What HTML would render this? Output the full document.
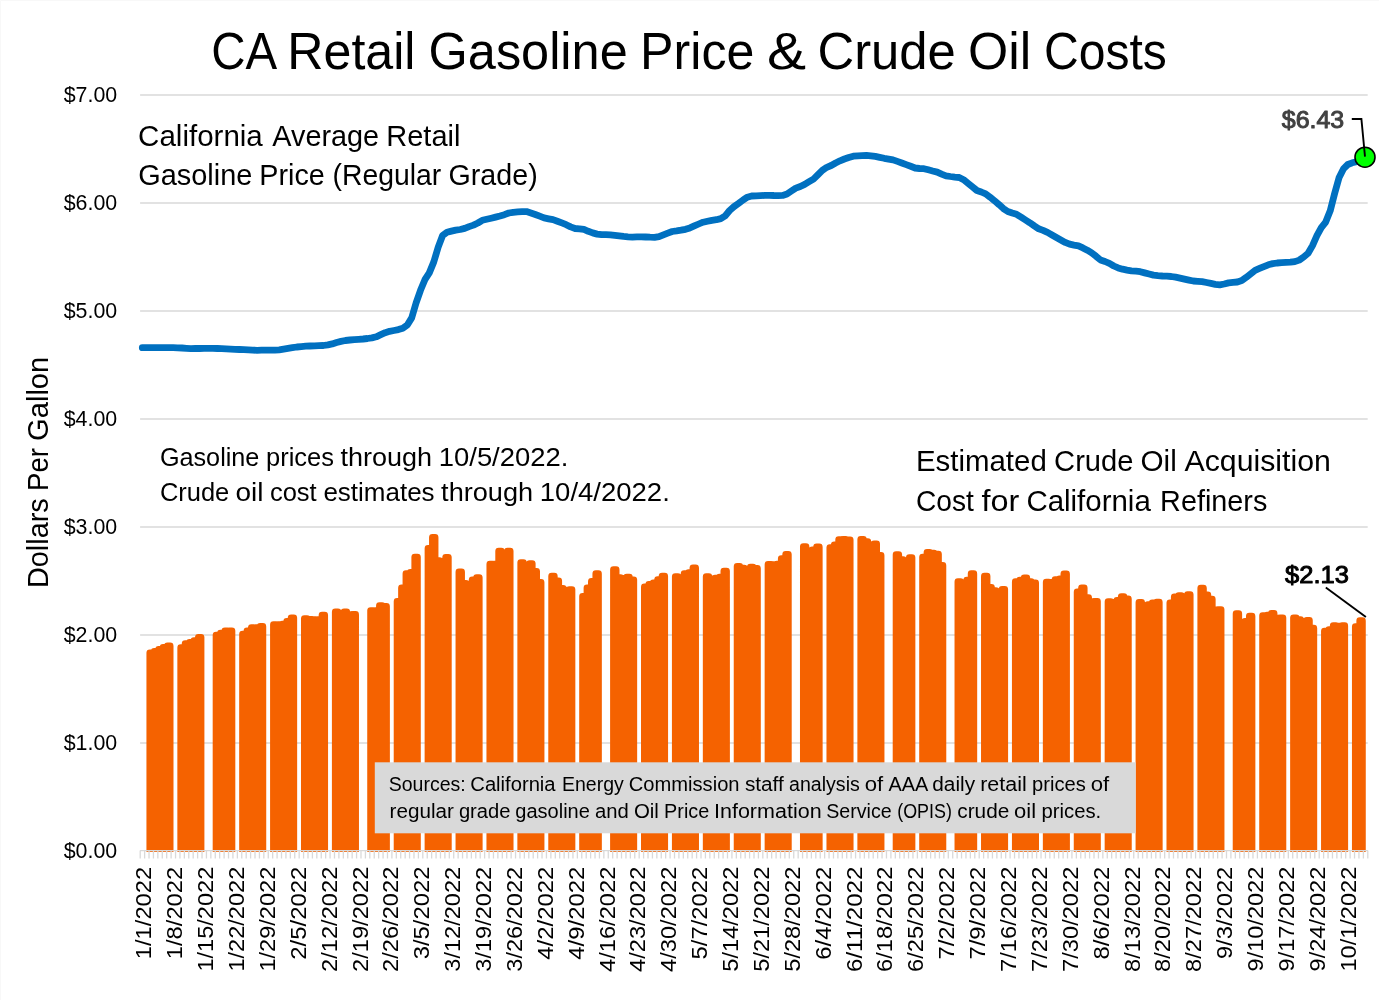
<!DOCTYPE html>
<html lang="en"><head><meta charset="utf-8"><title>CA Retail Gasoline Price &amp; Crude Oil Costs</title>
<style>html,body{margin:0;padding:0;background:#fff}body{width:1379px;height:1000px;overflow:hidden}svg{display:block}text{font-family:"Liberation Sans",sans-serif}</style>
</head><body>
<svg width="1379" height="1000" viewBox="0 0 1379 1000">
<rect x="0" y="0" width="1379" height="1000" fill="#fff"/>
<path d="M0.5 1000 V0.5 H1379" fill="none" stroke="#F8F8F8" stroke-width="1"/>
<path d="M140.1 743.00H1367.7M140.1 635.00H1367.7M140.1 527.00H1367.7M140.1 419.00H1367.7M140.1 311.00H1367.7M140.1 203.00H1367.7M140.1 95.00H1367.7" stroke="#D9D9D9" stroke-width="1.4" fill="none"/>
<defs><clipPath id="pc"><rect x="138.1" y="80" width="1231.6" height="771.90"/></clipPath></defs>
<path clip-path="url(#pc)" d="M149.84 860.5V652.80H152.44V860.5ZM154.26 860.5V651.50H156.86V860.5ZM158.67 860.5V649.50H161.27V860.5ZM163.09 860.5V647.40H165.69V860.5ZM167.50 860.5V645.90H170.10V860.5ZM180.75 860.5V647.70H183.35V860.5ZM185.17 860.5V643.60H187.77V860.5ZM189.58 860.5V642.40H192.18V860.5ZM194.00 860.5V640.60H196.60V860.5ZM198.41 860.5V637.30H201.01V860.5ZM216.08 860.5V635.10H218.68V860.5ZM220.49 860.5V633.20H223.09V860.5ZM224.91 860.5V630.80H227.51V860.5ZM229.32 860.5V630.80H231.92V860.5ZM242.57 860.5V634.20H245.17V860.5ZM246.99 860.5V630.80H249.59V860.5ZM251.40 860.5V627.60H254.00V860.5ZM255.82 860.5V627.60H258.42V860.5ZM260.23 860.5V626.40H262.83V860.5ZM273.48 860.5V624.70H276.08V860.5ZM277.90 860.5V624.70H280.50V860.5ZM282.31 860.5V624.10H284.91V860.5ZM286.73 860.5V621.40H289.33V860.5ZM291.15 860.5V617.80H293.75V860.5ZM304.39 860.5V618.69H306.99V860.5ZM308.81 860.5V619.47H311.41V860.5ZM313.22 860.5V619.73H315.82V860.5ZM317.64 860.5V619.73H320.24V860.5ZM322.06 860.5V615.16H324.66V860.5ZM335.30 860.5V611.90H337.90V860.5ZM339.72 860.5V613.86H342.32V860.5ZM344.13 860.5V611.90H346.73V860.5ZM348.55 860.5V614.77H351.15V860.5ZM352.97 860.5V614.51H355.57V860.5ZM370.63 860.5V610.59H373.23V860.5ZM375.05 860.5V610.59H377.65V860.5ZM379.46 860.5V605.63H382.06V860.5ZM383.88 860.5V606.42H386.48V860.5ZM397.12 860.5V601.46H399.72V860.5ZM401.54 860.5V588.01H404.14V860.5ZM405.96 860.5V573.65H408.56V860.5ZM410.37 860.5V572.35H412.97V860.5ZM414.79 860.5V557.08H417.39V860.5ZM428.03 860.5V548.46H430.63V860.5ZM432.45 860.5V537.50H435.05V860.5ZM436.87 860.5V560.60H439.47V860.5ZM441.28 860.5V561.52H443.88V860.5ZM445.70 860.5V557.34H448.30V860.5ZM458.95 860.5V571.96H461.55V860.5ZM463.36 860.5V583.44H465.96V860.5ZM467.78 860.5V584.10H470.38V860.5ZM472.19 860.5V579.79H474.79V860.5ZM476.61 860.5V577.57H479.21V860.5ZM489.86 860.5V564.13H492.46V860.5ZM494.27 860.5V564.13H496.87V860.5ZM498.69 860.5V551.07H501.29V860.5ZM503.10 860.5V553.42H505.70V860.5ZM507.52 860.5V551.07H510.12V860.5ZM520.77 860.5V562.56H523.37V860.5ZM525.18 860.5V565.17H527.78V860.5ZM529.60 860.5V563.60H532.20V860.5ZM534.01 860.5V571.44H536.61V860.5ZM538.43 860.5V582.40H541.03V860.5ZM551.68 860.5V576.27H554.28V860.5ZM556.09 860.5V580.83H558.69V860.5ZM560.51 860.5V588.40H563.11V860.5ZM564.92 860.5V590.23H567.52V860.5ZM569.34 860.5V589.58H571.94V860.5ZM582.59 860.5V596.50H585.19V860.5ZM587.00 860.5V588.01H589.60V860.5ZM591.42 860.5V581.49H594.02V860.5ZM595.84 860.5V573.65H598.44V860.5ZM613.50 860.5V569.74H616.10V860.5ZM617.91 860.5V577.57H620.51V860.5ZM622.33 860.5V578.48H624.93V860.5ZM626.75 860.5V577.18H629.35V860.5ZM631.16 860.5V579.79H633.76V860.5ZM644.41 860.5V586.97H647.01V860.5ZM648.82 860.5V584.49H651.42V860.5ZM653.24 860.5V582.79H655.84V860.5ZM657.66 860.5V579.53H660.26V860.5ZM662.07 860.5V576.27H664.67V860.5ZM675.32 860.5V576.53H677.92V860.5ZM679.74 860.5V577.96H682.34V860.5ZM684.15 860.5V573.65H686.75V860.5ZM688.57 860.5V572.74H691.17V860.5ZM692.98 860.5V567.78H695.58V860.5ZM706.23 860.5V576.53H708.83V860.5ZM710.65 860.5V579.01H713.25V860.5ZM715.06 860.5V578.22H717.66V860.5ZM719.48 860.5V577.18H722.08V860.5ZM723.89 860.5V571.04H726.49V860.5ZM737.14 860.5V566.48H739.74V860.5ZM741.56 860.5V568.04H744.16V860.5ZM745.97 860.5V569.09H748.57V860.5ZM750.39 860.5V567.13H752.99V860.5ZM754.80 860.5V568.43H757.40V860.5ZM768.05 860.5V564.52H770.65V860.5ZM772.47 860.5V564.65H775.07V860.5ZM776.88 860.5V564.13H779.48V860.5ZM781.30 860.5V558.64H783.90V860.5ZM785.71 860.5V554.47H788.31V860.5ZM803.38 860.5V546.63H805.98V860.5ZM807.79 860.5V551.86H810.39V860.5ZM812.21 860.5V549.90H814.81V860.5ZM816.63 860.5V546.90H819.23V860.5ZM829.87 860.5V547.55H832.47V860.5ZM834.29 860.5V544.94H836.89V860.5ZM838.70 860.5V539.72H841.30V860.5ZM843.12 860.5V539.46H845.72V860.5ZM847.54 860.5V539.85H850.14V860.5ZM860.78 860.5V539.46H863.38V860.5ZM865.20 860.5V541.67H867.80V860.5ZM869.61 860.5V544.94H872.21V860.5ZM874.03 860.5V543.89H876.63V860.5ZM878.45 860.5V555.38H881.05V860.5ZM896.11 860.5V554.73H898.71V860.5ZM900.53 860.5V559.56H903.13V860.5ZM904.94 860.5V560.86H907.54V860.5ZM909.36 860.5V557.60H911.96V860.5ZM922.60 860.5V557.08H925.20V860.5ZM927.02 860.5V552.38H929.62V860.5ZM931.44 860.5V553.03H934.04V860.5ZM935.85 860.5V554.21H938.45V860.5ZM940.27 860.5V565.43H942.87V860.5ZM957.93 860.5V581.75H960.53V860.5ZM962.35 860.5V582.92H964.95V860.5ZM966.76 860.5V580.18H969.36V860.5ZM971.18 860.5V573.65H973.78V860.5ZM984.43 860.5V576.27H987.03V860.5ZM988.84 860.5V587.36H991.44V860.5ZM993.26 860.5V590.62H995.86V860.5ZM997.67 860.5V591.67H1000.27V860.5ZM1002.09 860.5V589.32H1004.69V860.5ZM1015.34 860.5V581.75H1017.94V860.5ZM1019.75 860.5V580.18H1022.35V860.5ZM1024.17 860.5V577.96H1026.77V860.5ZM1028.58 860.5V581.75H1031.18V860.5ZM1033.00 860.5V582.79H1035.60V860.5ZM1046.25 860.5V582.14H1048.85V860.5ZM1050.66 860.5V582.40H1053.26V860.5ZM1055.08 860.5V579.53H1057.68V860.5ZM1059.49 860.5V578.88H1062.09V860.5ZM1063.91 860.5V573.92H1066.51V860.5ZM1077.16 860.5V591.93H1079.76V860.5ZM1081.57 860.5V588.01H1084.17V860.5ZM1085.99 860.5V597.54H1088.59V860.5ZM1090.40 860.5V601.72H1093.00V860.5ZM1094.82 860.5V601.46H1097.42V860.5ZM1108.07 860.5V601.75H1110.67V860.5ZM1112.48 860.5V602.40H1115.08V860.5ZM1116.90 860.5V600.44H1119.50V860.5ZM1121.32 860.5V596.53H1123.92V860.5ZM1125.73 860.5V598.88H1128.33V860.5ZM1138.98 860.5V602.40H1141.58V860.5ZM1143.39 860.5V607.36H1145.99V860.5ZM1147.81 860.5V604.75H1150.41V860.5ZM1152.23 860.5V602.92H1154.83V860.5ZM1156.64 860.5V602.14H1159.24V860.5ZM1169.89 860.5V602.79H1172.49V860.5ZM1174.31 860.5V596.92H1176.91V860.5ZM1178.72 860.5V595.61H1181.32V860.5ZM1183.14 860.5V596.66H1185.74V860.5ZM1187.55 860.5V594.57H1190.15V860.5ZM1200.80 860.5V588.17H1203.40V860.5ZM1205.22 860.5V594.96H1207.82V860.5ZM1209.63 860.5V599.27H1212.23V860.5ZM1214.05 860.5V609.97H1216.65V860.5ZM1218.46 860.5V609.58H1221.06V860.5ZM1236.13 860.5V613.63H1238.73V860.5ZM1240.54 860.5V622.37H1243.14V860.5ZM1244.96 860.5V621.46H1247.56V860.5ZM1249.37 860.5V616.24H1251.97V860.5ZM1262.62 860.5V615.58H1265.22V860.5ZM1267.04 860.5V615.19H1269.64V860.5ZM1271.45 860.5V613.50H1274.05V860.5ZM1275.87 860.5V618.06H1278.47V860.5ZM1280.28 860.5V617.80H1282.88V860.5ZM1293.53 860.5V617.80H1296.13V860.5ZM1297.95 860.5V619.63H1300.55V860.5ZM1302.36 860.5V621.33H1304.96V860.5ZM1306.78 860.5V620.41H1309.38V860.5ZM1311.19 860.5V628.25H1313.79V860.5ZM1324.44 860.5V631.12H1327.04V860.5ZM1328.86 860.5V629.55H1331.46V860.5ZM1333.27 860.5V625.63H1335.87V860.5ZM1337.69 860.5V626.03H1340.29V860.5ZM1342.11 860.5V625.63H1344.71V860.5ZM1355.35 860.5V626.55H1357.95V860.5ZM1359.77 860.5V620.67H1362.37V860.5Z" fill="#F56200" stroke="#F56200" stroke-width="6.8" stroke-linejoin="round"/>
<path d="M139.9 850.70H1368.1" stroke="#D9D9D9" stroke-width="1.3" fill="none"/>
<path d="M140.20 850.7V858.6M144.62 850.7V858.6M149.03 850.7V858.6M153.45 850.7V858.6M157.86 850.7V858.6M162.28 850.7V858.6M166.69 850.7V858.6M171.11 850.7V858.6M175.53 850.7V858.6M179.94 850.7V858.6M184.36 850.7V858.6M188.77 850.7V858.6M193.19 850.7V858.6M197.61 850.7V858.6M202.02 850.7V858.6M206.44 850.7V858.6M210.85 850.7V858.6M215.27 850.7V858.6M219.68 850.7V858.6M224.10 850.7V858.6M228.52 850.7V858.6M232.93 850.7V858.6M237.35 850.7V858.6M241.76 850.7V858.6M246.18 850.7V858.6M250.59 850.7V858.6M255.01 850.7V858.6M259.43 850.7V858.6M263.84 850.7V858.6M268.26 850.7V858.6M272.67 850.7V858.6M277.09 850.7V858.6M281.51 850.7V858.6M285.92 850.7V858.6M290.34 850.7V858.6M294.75 850.7V858.6M299.17 850.7V858.6M303.58 850.7V858.6M308.00 850.7V858.6M312.42 850.7V858.6M316.83 850.7V858.6M321.25 850.7V858.6M325.66 850.7V858.6M330.08 850.7V858.6M334.50 850.7V858.6M338.91 850.7V858.6M343.33 850.7V858.6M347.74 850.7V858.6M352.16 850.7V858.6M356.57 850.7V858.6M360.99 850.7V858.6M365.41 850.7V858.6M369.82 850.7V858.6M374.24 850.7V858.6M378.65 850.7V858.6M383.07 850.7V858.6M387.48 850.7V858.6M391.90 850.7V858.6M396.32 850.7V858.6M400.73 850.7V858.6M405.15 850.7V858.6M409.56 850.7V858.6M413.98 850.7V858.6M418.40 850.7V858.6M422.81 850.7V858.6M427.23 850.7V858.6M431.64 850.7V858.6M436.06 850.7V858.6M440.47 850.7V858.6M444.89 850.7V858.6M449.31 850.7V858.6M453.72 850.7V858.6M458.14 850.7V858.6M462.55 850.7V858.6M466.97 850.7V858.6M471.38 850.7V858.6M475.80 850.7V858.6M480.22 850.7V858.6M484.63 850.7V858.6M489.05 850.7V858.6M493.46 850.7V858.6M497.88 850.7V858.6M502.30 850.7V858.6M506.71 850.7V858.6M511.13 850.7V858.6M515.54 850.7V858.6M519.96 850.7V858.6M524.37 850.7V858.6M528.79 850.7V858.6M533.21 850.7V858.6M537.62 850.7V858.6M542.04 850.7V858.6M546.45 850.7V858.6M550.87 850.7V858.6M555.29 850.7V858.6M559.70 850.7V858.6M564.12 850.7V858.6M568.53 850.7V858.6M572.95 850.7V858.6M577.36 850.7V858.6M581.78 850.7V858.6M586.20 850.7V858.6M590.61 850.7V858.6M595.03 850.7V858.6M599.44 850.7V858.6M603.86 850.7V858.6M608.27 850.7V858.6M612.69 850.7V858.6M617.11 850.7V858.6M621.52 850.7V858.6M625.94 850.7V858.6M630.35 850.7V858.6M634.77 850.7V858.6M639.19 850.7V858.6M643.60 850.7V858.6M648.02 850.7V858.6M652.43 850.7V858.6M656.85 850.7V858.6M661.26 850.7V858.6M665.68 850.7V858.6M670.10 850.7V858.6M674.51 850.7V858.6M678.93 850.7V858.6M683.34 850.7V858.6M687.76 850.7V858.6M692.17 850.7V858.6M696.59 850.7V858.6M701.01 850.7V858.6M705.42 850.7V858.6M709.84 850.7V858.6M714.25 850.7V858.6M718.67 850.7V858.6M723.09 850.7V858.6M727.50 850.7V858.6M731.92 850.7V858.6M736.33 850.7V858.6M740.75 850.7V858.6M745.16 850.7V858.6M749.58 850.7V858.6M754.00 850.7V858.6M758.41 850.7V858.6M762.83 850.7V858.6M767.24 850.7V858.6M771.66 850.7V858.6M776.08 850.7V858.6M780.49 850.7V858.6M784.91 850.7V858.6M789.32 850.7V858.6M793.74 850.7V858.6M798.15 850.7V858.6M802.57 850.7V858.6M806.99 850.7V858.6M811.40 850.7V858.6M815.82 850.7V858.6M820.23 850.7V858.6M824.65 850.7V858.6M829.06 850.7V858.6M833.48 850.7V858.6M837.90 850.7V858.6M842.31 850.7V858.6M846.73 850.7V858.6M851.14 850.7V858.6M855.56 850.7V858.6M859.98 850.7V858.6M864.39 850.7V858.6M868.81 850.7V858.6M873.22 850.7V858.6M877.64 850.7V858.6M882.05 850.7V858.6M886.47 850.7V858.6M890.89 850.7V858.6M895.30 850.7V858.6M899.72 850.7V858.6M904.13 850.7V858.6M908.55 850.7V858.6M912.96 850.7V858.6M917.38 850.7V858.6M921.80 850.7V858.6M926.21 850.7V858.6M930.63 850.7V858.6M935.04 850.7V858.6M939.46 850.7V858.6M943.88 850.7V858.6M948.29 850.7V858.6M952.71 850.7V858.6M957.12 850.7V858.6M961.54 850.7V858.6M965.95 850.7V858.6M970.37 850.7V858.6M974.79 850.7V858.6M979.20 850.7V858.6M983.62 850.7V858.6M988.03 850.7V858.6M992.45 850.7V858.6M996.87 850.7V858.6M1001.28 850.7V858.6M1005.70 850.7V858.6M1010.11 850.7V858.6M1014.53 850.7V858.6M1018.94 850.7V858.6M1023.36 850.7V858.6M1027.78 850.7V858.6M1032.19 850.7V858.6M1036.61 850.7V858.6M1041.02 850.7V858.6M1045.44 850.7V858.6M1049.85 850.7V858.6M1054.27 850.7V858.6M1058.69 850.7V858.6M1063.10 850.7V858.6M1067.52 850.7V858.6M1071.93 850.7V858.6M1076.35 850.7V858.6M1080.77 850.7V858.6M1085.18 850.7V858.6M1089.60 850.7V858.6M1094.01 850.7V858.6M1098.43 850.7V858.6M1102.84 850.7V858.6M1107.26 850.7V858.6M1111.68 850.7V858.6M1116.09 850.7V858.6M1120.51 850.7V858.6M1124.92 850.7V858.6M1129.34 850.7V858.6M1133.75 850.7V858.6M1138.17 850.7V858.6M1142.59 850.7V858.6M1147.00 850.7V858.6M1151.42 850.7V858.6M1155.83 850.7V858.6M1160.25 850.7V858.6M1164.67 850.7V858.6M1169.08 850.7V858.6M1173.50 850.7V858.6M1177.91 850.7V858.6M1182.33 850.7V858.6M1186.74 850.7V858.6M1191.16 850.7V858.6M1195.58 850.7V858.6M1199.99 850.7V858.6M1204.41 850.7V858.6M1208.82 850.7V858.6M1213.24 850.7V858.6M1217.66 850.7V858.6M1222.07 850.7V858.6M1226.49 850.7V858.6M1230.90 850.7V858.6M1235.32 850.7V858.6M1239.73 850.7V858.6M1244.15 850.7V858.6M1248.57 850.7V858.6M1252.98 850.7V858.6M1257.40 850.7V858.6M1261.81 850.7V858.6M1266.23 850.7V858.6M1270.64 850.7V858.6M1275.06 850.7V858.6M1279.48 850.7V858.6M1283.89 850.7V858.6M1288.31 850.7V858.6M1292.72 850.7V858.6M1297.14 850.7V858.6M1301.56 850.7V858.6M1305.97 850.7V858.6M1310.39 850.7V858.6M1314.80 850.7V858.6M1319.22 850.7V858.6M1323.63 850.7V858.6M1328.05 850.7V858.6M1332.47 850.7V858.6M1336.88 850.7V858.6M1341.30 850.7V858.6M1345.71 850.7V858.6M1350.13 850.7V858.6M1354.55 850.7V858.6M1358.96 850.7V858.6M1363.38 850.7V858.6M1367.79 850.7V858.6" stroke="#D9D9D9" stroke-width="1.3" fill="none"/>
<polyline points="142.3,347.7 146.7,347.7 151.1,347.7 155.6,347.7 160.0,347.7 164.4,347.6 168.8,347.6 173.2,347.7 177.6,347.8 182.1,348.0 186.5,348.3 190.9,348.6 195.3,348.5 199.7,348.5 204.1,348.4 208.5,348.4 213.0,348.3 217.4,348.5 221.8,348.7 226.2,348.9 230.6,349.1 235.0,349.3 239.5,349.5 243.9,349.7 248.3,349.9 252.7,350.1 257.1,350.3 261.5,350.2 266.0,350.2 270.4,350.1 274.8,350.1 279.2,349.8 283.6,349.1 288.0,348.4 292.4,347.7 296.9,347.0 301.3,346.6 305.7,346.2 310.1,346.0 314.5,345.9 318.9,345.7 323.4,345.5 327.8,344.8 332.2,343.9 336.6,342.5 341.0,341.4 345.4,340.5 349.9,340.0 354.3,339.6 358.7,339.3 363.1,339.0 367.5,338.5 371.9,337.9 376.3,336.8 380.8,334.7 385.2,332.7 389.6,331.3 394.0,330.5 398.4,329.6 402.8,328.2 407.3,325.0 411.7,317.9 416.1,302.9 420.5,290.3 424.9,279.7 429.3,272.9 433.8,261.9 438.2,247.1 442.6,235.5 447.0,232.3 451.4,231.1 455.8,230.1 460.2,229.5 464.7,228.4 469.1,226.6 473.5,225.1 477.9,223.0 482.3,220.3 486.7,219.3 491.2,218.2 495.6,217.1 500.0,216.0 504.4,214.7 508.8,213.0 513.2,212.3 517.7,211.9 522.1,211.7 526.5,211.6 530.9,213.0 535.3,214.5 539.7,216.2 544.1,217.9 548.6,218.8 553.0,219.6 557.4,221.2 561.8,222.9 566.2,224.7 570.6,226.9 575.1,228.5 579.5,228.8 583.9,229.4 588.3,231.3 592.7,232.9 597.1,234.1 601.6,234.7 606.0,234.7 610.4,234.8 614.8,235.3 619.2,235.8 623.6,236.4 628.0,236.8 632.5,237.1 636.9,236.9 641.3,236.8 645.7,237.0 650.1,237.2 654.5,237.3 659.0,236.6 663.4,234.8 667.8,233.1 672.2,231.5 676.6,230.9 681.0,230.2 685.5,229.3 689.9,227.9 694.3,225.9 698.7,224.0 703.1,222.2 707.5,221.2 711.9,220.3 716.4,219.7 720.8,218.6 725.2,215.9 729.6,210.5 734.0,206.6 738.4,203.5 742.9,200.1 747.3,197.2 751.7,196.0 756.1,195.8 760.5,195.6 764.9,195.4 769.4,195.3 773.8,195.5 778.2,195.6 782.6,195.4 787.0,194.0 791.4,191.0 795.8,188.1 800.3,186.5 804.7,184.4 809.1,181.7 813.5,179.1 817.9,174.8 822.3,170.4 826.8,167.3 831.2,165.5 835.6,163.0 840.0,160.8 844.4,159.0 848.8,157.5 853.3,156.2 857.7,155.8 862.1,155.6 866.5,155.4 870.9,155.8 875.3,156.4 879.7,157.3 884.2,158.3 888.6,159.1 893.0,159.9 897.4,161.4 901.8,163.0 906.2,164.6 910.7,166.3 915.1,168.0 919.5,168.5 923.9,168.7 928.3,169.8 932.7,171.0 937.2,172.1 941.6,174.1 946.0,175.8 950.4,176.5 954.8,177.1 959.2,177.5 963.6,179.7 968.1,183.3 972.5,186.9 976.9,190.5 981.3,192.0 985.7,193.9 990.1,197.2 994.6,200.8 999.0,204.6 1003.4,208.6 1007.8,211.5 1012.2,213.0 1016.6,214.3 1021.1,217.1 1025.5,220.0 1029.9,222.8 1034.3,225.9 1038.7,228.8 1043.1,230.4 1047.5,232.4 1052.0,235.0 1056.4,237.5 1060.8,240.0 1065.2,242.4 1069.6,244.2 1074.0,245.1 1078.5,245.9 1082.9,247.9 1087.3,250.2 1091.7,252.9 1096.1,256.3 1100.5,260.0 1105.0,261.5 1109.4,263.4 1113.8,266.0 1118.2,267.9 1122.6,269.2 1127.0,270.1 1131.4,270.8 1135.9,271.2 1140.3,271.7 1144.7,272.9 1149.1,274.0 1153.5,275.1 1157.9,275.6 1162.4,276.0 1166.8,276.2 1171.2,276.5 1175.6,277.2 1180.0,278.1 1184.4,279.1 1188.9,280.1 1193.3,281.0 1197.7,281.3 1202.1,281.6 1206.5,282.5 1210.9,283.4 1215.3,284.3 1219.8,284.8 1224.2,284.0 1228.6,282.9 1233.0,282.4 1237.4,282.0 1241.8,280.6 1246.3,277.3 1250.7,273.8 1255.1,270.3 1259.5,268.4 1263.9,266.6 1268.3,264.8 1272.8,263.6 1277.2,263.0 1281.6,262.6 1286.0,262.4 1290.4,262.2 1294.8,261.6 1299.2,260.1 1303.7,257.0 1308.1,253.2 1312.5,245.6 1316.9,235.7 1321.3,227.6 1325.7,222.1 1330.2,210.8 1334.6,193.7 1339.0,177.8 1343.4,168.9 1347.8,164.5 1352.2,162.8 1356.7,161.7 1361.1,160.2 1365.0,157.2" fill="none" stroke="#0070C0" stroke-width="6.8" stroke-linejoin="round" stroke-linecap="round"/>
<circle cx="1365.0" cy="157.2" r="10" fill="#00FF00" stroke="#000" stroke-width="1.6"/>
<path d="M1351.8 119H1361.4L1365.0 156.6" fill="none" stroke="#000" stroke-width="1.9" stroke-linejoin="miter"/>
<path d="M1325.8 587.4L1365.9 617.1" fill="none" stroke="#000" stroke-width="1.9"/>
<text y="68.9" font-size="51.98"><tspan x="211.3" textLength="63.3" lengthAdjust="spacingAndGlyphs">CA</tspan> <tspan x="287.3" textLength="128.2" lengthAdjust="spacingAndGlyphs">Retail</tspan> <tspan x="428.6" textLength="199.1" lengthAdjust="spacingAndGlyphs">Gasoline</tspan> <tspan x="640.1" textLength="114.3" lengthAdjust="spacingAndGlyphs">Price</tspan> <tspan x="767.1" textLength="39.1" lengthAdjust="spacingAndGlyphs">&amp;</tspan> <tspan x="817.5" textLength="138.3" lengthAdjust="spacingAndGlyphs">Crude</tspan> <tspan x="968.0" textLength="63.2" lengthAdjust="spacingAndGlyphs">Oil</tspan> <tspan x="1044.0" textLength="122.9" lengthAdjust="spacingAndGlyphs">Costs</tspan></text>
<text y="146.2" font-size="29.72"><tspan x="138.1" textLength="124.7" lengthAdjust="spacingAndGlyphs">California</tspan> <tspan x="272.3" textLength="106.8" lengthAdjust="spacingAndGlyphs">Average</tspan> <tspan x="386.3" textLength="74.1" lengthAdjust="spacingAndGlyphs">Retail</tspan></text>
<text y="185.0" font-size="29.72"><tspan x="138.2" textLength="114.1" lengthAdjust="spacingAndGlyphs">Gasoline</tspan> <tspan x="259.3" textLength="65.5" lengthAdjust="spacingAndGlyphs">Price</tspan> <tspan x="332.6" textLength="108.7" lengthAdjust="spacingAndGlyphs">(Regular</tspan> <tspan x="448.5" textLength="89.2" lengthAdjust="spacingAndGlyphs">Grade)</tspan></text>
<text y="465.9" font-size="25.94"><tspan x="159.9" textLength="99.5" lengthAdjust="spacingAndGlyphs">Gasoline</tspan> <tspan x="266.0" textLength="67.9" lengthAdjust="spacingAndGlyphs">prices</tspan> <tspan x="340.4" textLength="91.6" lengthAdjust="spacingAndGlyphs">through</tspan> <tspan x="438.8" textLength="129.5" lengthAdjust="spacingAndGlyphs">10/5/2022.</tspan></text>
<text y="500.5" font-size="25.94"><tspan x="159.9" textLength="69.4" lengthAdjust="spacingAndGlyphs">Crude</tspan> <tspan x="235.5" textLength="28.0" lengthAdjust="spacingAndGlyphs">oil</tspan> <tspan x="269.9" textLength="46.8" lengthAdjust="spacingAndGlyphs">cost</tspan> <tspan x="323.4" textLength="111.2" lengthAdjust="spacingAndGlyphs">estimates</tspan> <tspan x="441.1" textLength="92.0" lengthAdjust="spacingAndGlyphs">through</tspan> <tspan x="539.8" textLength="130.0" lengthAdjust="spacingAndGlyphs">10/4/2022.</tspan></text>
<text y="470.9" font-size="29.72"><tspan x="915.9" textLength="130.9" lengthAdjust="spacingAndGlyphs">Estimated</tspan> <tspan x="1054.1" textLength="79.4" lengthAdjust="spacingAndGlyphs">Crude</tspan> <tspan x="1140.5" textLength="36.3" lengthAdjust="spacingAndGlyphs">Oil</tspan> <tspan x="1184.5" textLength="146.4" lengthAdjust="spacingAndGlyphs">Acquisition</tspan></text>
<text y="511.0" font-size="29.72"><tspan x="916.0" textLength="57.9" lengthAdjust="spacingAndGlyphs">Cost</tspan> <tspan x="981.5" textLength="37.8" lengthAdjust="spacingAndGlyphs">for</tspan> <tspan x="1026.4" textLength="124.4" lengthAdjust="spacingAndGlyphs">California</tspan> <tspan x="1160.1" textLength="107.2" lengthAdjust="spacingAndGlyphs">Refiners</tspan></text>
<text y="128.4" font-size="24.75" fill="#404040" stroke="#404040" stroke-width="1.0" stroke-linejoin="round"><tspan x="1281.8" textLength="62.4" lengthAdjust="spacingAndGlyphs">$6.43</tspan></text>
<text y="582.8" font-size="24.75" stroke="#000" stroke-width="1.0" stroke-linejoin="round"><tspan x="1285.1" textLength="63.8" lengthAdjust="spacingAndGlyphs">$2.13</tspan></text>
<rect x="374.8" y="762.3" width="760.9" height="71.0" fill="#D9D9D9"/>
<text y="790.7" font-size="20.52"><tspan x="388.7" textLength="77.0" lengthAdjust="spacingAndGlyphs">Sources:</tspan> <tspan x="470.3" textLength="85.3" lengthAdjust="spacingAndGlyphs">California</tspan> <tspan x="562.0" textLength="61.8" lengthAdjust="spacingAndGlyphs">Energy</tspan> <tspan x="628.7" textLength="110.9" lengthAdjust="spacingAndGlyphs">Commission</tspan> <tspan x="744.9" textLength="38.9" lengthAdjust="spacingAndGlyphs">staff</tspan> <tspan x="789.1" textLength="70.7" lengthAdjust="spacingAndGlyphs">analysis</tspan> <tspan x="864.7" textLength="18.5" lengthAdjust="spacingAndGlyphs">of</tspan> <tspan x="888.5" textLength="38.7" lengthAdjust="spacingAndGlyphs">AAA</tspan> <tspan x="932.3" textLength="42.8" lengthAdjust="spacingAndGlyphs">daily</tspan> <tspan x="980.2" textLength="46.5" lengthAdjust="spacingAndGlyphs">retail</tspan> <tspan x="1032.1" textLength="53.7" lengthAdjust="spacingAndGlyphs">prices</tspan> <tspan x="1090.8" textLength="18.5" lengthAdjust="spacingAndGlyphs">of</tspan></text>
<text y="817.6" font-size="20.52"><tspan x="389.6" textLength="64.3" lengthAdjust="spacingAndGlyphs">regular</tspan> <tspan x="458.9" textLength="51.6" lengthAdjust="spacingAndGlyphs">grade</tspan> <tspan x="515.3" textLength="74.6" lengthAdjust="spacingAndGlyphs">gasoline</tspan> <tspan x="594.9" textLength="33.8" lengthAdjust="spacingAndGlyphs">and</tspan> <tspan x="633.9" textLength="25.0" lengthAdjust="spacingAndGlyphs">Oil</tspan> <tspan x="664.1" textLength="45.1" lengthAdjust="spacingAndGlyphs">Price</tspan> <tspan x="714.0" textLength="107.6" lengthAdjust="spacingAndGlyphs">Information</tspan> <tspan x="826.2" textLength="65.5" lengthAdjust="spacingAndGlyphs">Service</tspan> <tspan x="897.2" textLength="54.7" lengthAdjust="spacingAndGlyphs">(OPIS)</tspan> <tspan x="957.3" textLength="52.0" lengthAdjust="spacingAndGlyphs">crude</tspan> <tspan x="1014.1" textLength="22.0" lengthAdjust="spacingAndGlyphs">oil</tspan> <tspan x="1041.5" textLength="59.7" lengthAdjust="spacingAndGlyphs">prices.</tspan></text>
<text y="857.7" font-size="22.26"><tspan x="63.7" textLength="53.5" lengthAdjust="spacingAndGlyphs">$0.00</tspan></text>
<text y="750.1" font-size="22.26"><tspan x="63.7" textLength="53.5" lengthAdjust="spacingAndGlyphs">$1.00</tspan></text>
<text y="642.1" font-size="22.26"><tspan x="63.7" textLength="53.5" lengthAdjust="spacingAndGlyphs">$2.00</tspan></text>
<text y="534.1" font-size="22.26"><tspan x="63.7" textLength="53.5" lengthAdjust="spacingAndGlyphs">$3.00</tspan></text>
<text y="426.1" font-size="22.26"><tspan x="63.7" textLength="53.5" lengthAdjust="spacingAndGlyphs">$4.00</tspan></text>
<text y="318.1" font-size="22.26"><tspan x="63.7" textLength="53.5" lengthAdjust="spacingAndGlyphs">$5.00</tspan></text>
<text y="210.1" font-size="22.26"><tspan x="63.7" textLength="53.5" lengthAdjust="spacingAndGlyphs">$6.00</tspan></text>
<text y="102.1" font-size="22.26"><tspan x="63.7" textLength="53.5" lengthAdjust="spacingAndGlyphs">$7.00</tspan></text>
<text y="0.0" font-size="29.72" transform="translate(48.1 0) rotate(-90)"><tspan x="-588.1" textLength="89.9" lengthAdjust="spacingAndGlyphs">Dollars</tspan> <tspan x="-490.9" textLength="42.8" lengthAdjust="spacingAndGlyphs">Per</tspan> <tspan x="-440.9" textLength="84.1" lengthAdjust="spacingAndGlyphs">Gallon</tspan></text>
<text y="0.0" font-size="21.71" transform="translate(151.3 0) rotate(-90)"><tspan x="-959.3" textLength="92.6" lengthAdjust="spacingAndGlyphs">1/1/2022</tspan></text>
<text y="0.0" font-size="21.71" transform="translate(182.2 0) rotate(-90)"><tspan x="-959.3" textLength="92.6" lengthAdjust="spacingAndGlyphs">1/8/2022</tspan></text>
<text y="0.0" font-size="21.71" transform="translate(213.1 0) rotate(-90)"><tspan x="-971.6" textLength="104.9" lengthAdjust="spacingAndGlyphs">1/15/2022</tspan></text>
<text y="0.0" font-size="21.71" transform="translate(243.9 0) rotate(-90)"><tspan x="-971.6" textLength="104.9" lengthAdjust="spacingAndGlyphs">1/22/2022</tspan></text>
<text y="0.0" font-size="21.71" transform="translate(274.8 0) rotate(-90)"><tspan x="-971.6" textLength="104.9" lengthAdjust="spacingAndGlyphs">1/29/2022</tspan></text>
<text y="0.0" font-size="21.71" transform="translate(305.7 0) rotate(-90)"><tspan x="-959.7" textLength="93.0" lengthAdjust="spacingAndGlyphs">2/5/2022</tspan></text>
<text y="0.0" font-size="21.71" transform="translate(336.6 0) rotate(-90)"><tspan x="-972.0" textLength="105.3" lengthAdjust="spacingAndGlyphs">2/12/2022</tspan></text>
<text y="0.0" font-size="21.71" transform="translate(367.5 0) rotate(-90)"><tspan x="-972.0" textLength="105.3" lengthAdjust="spacingAndGlyphs">2/19/2022</tspan></text>
<text y="0.0" font-size="21.71" transform="translate(398.3 0) rotate(-90)"><tspan x="-972.0" textLength="105.3" lengthAdjust="spacingAndGlyphs">2/26/2022</tspan></text>
<text y="0.0" font-size="21.71" transform="translate(429.2 0) rotate(-90)"><tspan x="-959.3" textLength="92.7" lengthAdjust="spacingAndGlyphs">3/5/2022</tspan></text>
<text y="0.0" font-size="21.71" transform="translate(460.1 0) rotate(-90)"><tspan x="-971.7" textLength="104.9" lengthAdjust="spacingAndGlyphs">3/12/2022</tspan></text>
<text y="0.0" font-size="21.71" transform="translate(491.0 0) rotate(-90)"><tspan x="-971.7" textLength="104.9" lengthAdjust="spacingAndGlyphs">3/19/2022</tspan></text>
<text y="0.0" font-size="21.71" transform="translate(521.9 0) rotate(-90)"><tspan x="-971.7" textLength="104.9" lengthAdjust="spacingAndGlyphs">3/26/2022</tspan></text>
<text y="0.0" font-size="21.71" transform="translate(552.7 0) rotate(-90)"><tspan x="-959.7" textLength="93.0" lengthAdjust="spacingAndGlyphs">4/2/2022</tspan></text>
<text y="0.0" font-size="21.71" transform="translate(583.6 0) rotate(-90)"><tspan x="-959.7" textLength="93.0" lengthAdjust="spacingAndGlyphs">4/9/2022</tspan></text>
<text y="0.0" font-size="21.71" transform="translate(614.5 0) rotate(-90)"><tspan x="-972.0" textLength="105.3" lengthAdjust="spacingAndGlyphs">4/16/2022</tspan></text>
<text y="0.0" font-size="21.71" transform="translate(645.4 0) rotate(-90)"><tspan x="-972.0" textLength="105.3" lengthAdjust="spacingAndGlyphs">4/23/2022</tspan></text>
<text y="0.0" font-size="21.71" transform="translate(676.3 0) rotate(-90)"><tspan x="-972.0" textLength="105.3" lengthAdjust="spacingAndGlyphs">4/30/2022</tspan></text>
<text y="0.0" font-size="21.71" transform="translate(707.1 0) rotate(-90)"><tspan x="-959.4" textLength="92.7" lengthAdjust="spacingAndGlyphs">5/7/2022</tspan></text>
<text y="0.0" font-size="21.71" transform="translate(738.0 0) rotate(-90)"><tspan x="-971.7" textLength="105.0" lengthAdjust="spacingAndGlyphs">5/14/2022</tspan></text>
<text y="0.0" font-size="21.71" transform="translate(768.9 0) rotate(-90)"><tspan x="-971.7" textLength="105.0" lengthAdjust="spacingAndGlyphs">5/21/2022</tspan></text>
<text y="0.0" font-size="21.71" transform="translate(799.8 0) rotate(-90)"><tspan x="-971.7" textLength="105.0" lengthAdjust="spacingAndGlyphs">5/28/2022</tspan></text>
<text y="0.0" font-size="21.71" transform="translate(830.7 0) rotate(-90)"><tspan x="-959.7" textLength="93.0" lengthAdjust="spacingAndGlyphs">6/4/2022</tspan></text>
<text y="0.0" font-size="21.71" transform="translate(861.5 0) rotate(-90)"><tspan x="-972.0" textLength="105.3" lengthAdjust="spacingAndGlyphs">6/11/2022</tspan></text>
<text y="0.0" font-size="21.71" transform="translate(892.4 0) rotate(-90)"><tspan x="-972.0" textLength="105.3" lengthAdjust="spacingAndGlyphs">6/18/2022</tspan></text>
<text y="0.0" font-size="21.71" transform="translate(923.3 0) rotate(-90)"><tspan x="-972.0" textLength="105.3" lengthAdjust="spacingAndGlyphs">6/25/2022</tspan></text>
<text y="0.0" font-size="21.71" transform="translate(954.2 0) rotate(-90)"><tspan x="-959.6" textLength="92.9" lengthAdjust="spacingAndGlyphs">7/2/2022</tspan></text>
<text y="0.0" font-size="21.71" transform="translate(985.1 0) rotate(-90)"><tspan x="-959.6" textLength="92.9" lengthAdjust="spacingAndGlyphs">7/9/2022</tspan></text>
<text y="0.0" font-size="21.71" transform="translate(1015.9 0) rotate(-90)"><tspan x="-971.9" textLength="105.2" lengthAdjust="spacingAndGlyphs">7/16/2022</tspan></text>
<text y="0.0" font-size="21.71" transform="translate(1046.8 0) rotate(-90)"><tspan x="-971.9" textLength="105.2" lengthAdjust="spacingAndGlyphs">7/23/2022</tspan></text>
<text y="0.0" font-size="21.71" transform="translate(1077.7 0) rotate(-90)"><tspan x="-971.9" textLength="105.2" lengthAdjust="spacingAndGlyphs">7/30/2022</tspan></text>
<text y="0.0" font-size="21.71" transform="translate(1108.6 0) rotate(-90)"><tspan x="-959.6" textLength="92.9" lengthAdjust="spacingAndGlyphs">8/6/2022</tspan></text>
<text y="0.0" font-size="21.71" transform="translate(1139.5 0) rotate(-90)"><tspan x="-971.9" textLength="105.2" lengthAdjust="spacingAndGlyphs">8/13/2022</tspan></text>
<text y="0.0" font-size="21.71" transform="translate(1170.3 0) rotate(-90)"><tspan x="-971.9" textLength="105.2" lengthAdjust="spacingAndGlyphs">8/20/2022</tspan></text>
<text y="0.0" font-size="21.71" transform="translate(1201.2 0) rotate(-90)"><tspan x="-971.9" textLength="105.2" lengthAdjust="spacingAndGlyphs">8/27/2022</tspan></text>
<text y="0.0" font-size="21.71" transform="translate(1232.1 0) rotate(-90)"><tspan x="-959.1" textLength="92.4" lengthAdjust="spacingAndGlyphs">9/3/2022</tspan></text>
<text y="0.0" font-size="21.71" transform="translate(1263.0 0) rotate(-90)"><tspan x="-971.4" textLength="104.7" lengthAdjust="spacingAndGlyphs">9/10/2022</tspan></text>
<text y="0.0" font-size="21.71" transform="translate(1293.9 0) rotate(-90)"><tspan x="-971.4" textLength="104.7" lengthAdjust="spacingAndGlyphs">9/17/2022</tspan></text>
<text y="0.0" font-size="21.71" transform="translate(1324.7 0) rotate(-90)"><tspan x="-971.4" textLength="104.7" lengthAdjust="spacingAndGlyphs">9/24/2022</tspan></text>
<text y="0.0" font-size="21.71" transform="translate(1355.6 0) rotate(-90)"><tspan x="-971.6" textLength="104.9" lengthAdjust="spacingAndGlyphs">10/1/2022</tspan></text>
</svg>
</body></html>
